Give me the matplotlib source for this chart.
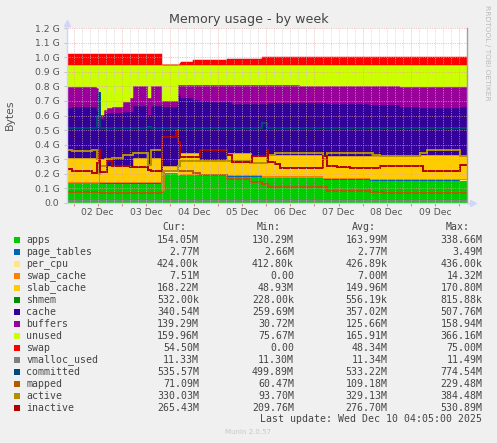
import numpy as np
import matplotlib
matplotlib.use("Agg")
import matplotlib.pyplot as plt

# ---------------- data (values in G, time in hours since 02 Dec 00:00) -------------
hours = [-3.4, -0.75, 9.2, 11.7, 12.45, 13.2, 15.2, 16.7, 19.2, 24.7, 28.1, 29.6,
         37.1, 38.6, 44.0, 45.1, 51.0, 52.0, 52.8, 53.5, 59.5, 63.0, 68.0, 76.4,
         78.9, 87.9, 88.9, 93.9, 96.3, 96.8, 100.3, 102.8, 112.8, 124.3, 126.2, 131.2,
         137.7, 147.7, 149.2, 152.7, 154.1, 162.6, 172.6, 174.0, 176.0, 190.9, 192.4, 195.8]

apps = [.135, .135, .135, .135, .200, .130, .130, .130, .130, .130, .130, .130,
        .130, .130, .205, .205, .205, .190, .190, .190, .190, .185, .185, .180,
        .180, .180, .180, .170, .170, .170, .170, .170, .170, .157, .157, .157,
        .157, .152, .152, .152, .152, .152, .152, .152, .152, .152, .150, .150]
page_tables = [.0027, .0027, .0027, .0027, .0027, .0027, .0027, .0027, .0027, .0027, .0027, .0027,
               .0027, .0027, .0027, .0027, .0027, .0027, .0027, .0027, .0027, .0027, .0027, .0027,
               .0027, .0027, .0027, .0027, .0027, .0027, .0027, .0027, .0027, .0027, .0027, .0027,
               .0027, .0027, .0027, .0027, .0027, .0027, .0027, .0027, .0027, .0027, .0027, .0027]
per_cpu = [.0004, .0004, .0004, .0004, .0004, .0004, .0004, .0004, .0004, .0004, .0004, .0004,
           .0004, .0004, .0004, .0004, .0004, .0004, .0004, .0004, .0004, .0004, .0004, .0004,
           .0004, .0004, .0004, .0004, .0004, .0004, .0004, .0004, .0004, .0004, .0004, .0004,
           .0004, .0004, .0004, .0004, .0004, .0004, .0004, .0004, .0004, .0004, .0004, .0004]
swap_cache = [.0073, .0073, .0073, .0073, .0073, .0073, .0073, .0073, .0073, .0073, .0073, .0073,
              .0073, .0073, 0.0, 0.0, 0.0, 0.0, .0073, .0073, .0073, .0073, .0073, .0073,
              .0073, .0073, .0073, .0073, .0073, .0073, .0073, .0073, .0073, .0073, .0073, .0073,
              .0073, .0073, .0073, .0073, .0073, .0073, .0073, .0073, .0073, .0073, .0073, .0073]
slab_cache = [.160, .160, .160, .155, .010, .160, .165, .110, .110, .110, .110, .170,
              .120, .170, .042, .042, .042, .107, .140, .140, .140, .100, .100, .150,
              .150, .150, .130, .140, .140, .148, .148, .148, .148, .153, .153, .153,
              .153, .158, .158, .158, .158, .158, .168, .168, .168, .168, .164, .164]
shmem = [.0005, .0005, .0005, .0005, .0005, .0005, .0005, .0005, .0005, .0005, .0005, .0005,
         .0005, .0005, .0005, .0005, .0005, .0005, .0005, .0005, .0005, .0005, .0005, .0005,
         .0005, .0005, .0005, .0005, .0005, .0005, .0005, .0005, .0005, .0005, .0005, .0005,
         .0005, .0005, .0005, .0005, .0005, .0005, .0005, .0005, .0005, .0005, .0005, .0005]
cache = [.347, .350, .355, .330, .330, .275, .305, .365, .365, .370, .370, .355,
         .340, .355, .405, .405, .410, .450, .390, .380, .365, .405, .395, .350,
         .340, .340, .360, .360, .360, .356, .356, .356, .356, .364, .355, .355,
         .355, .350, .350, .350, .350, .340, .322, .322, .322, .322, .333, .333]
buffers = [.140, .137, .132, .160, .150, .030, .030, .035, .045, .070, .100, .140,
           .120, .135, .045, .045, .040, .060, .080, .090, .105, .110, .120, .120,
           .130, .130, .130, .130, .130, .126, .126, .126, .116, .116, .125, .125,
           .125, .130, .130, .130, .130, .135, .143, .143, .143, .143, .136, .136]
unused = [.156, .156, .156, .158, .248, .343, .308, .298, .288, .258, .228, .143,
          .228, .148, .248, .248, .248, .138, .138, .138, .138, .138, .138, .138,
          .138, .138, .138, .138, .138, .138, .138, .138, .148, .148, .148, .148,
          .148, .148, .148, .148, .148, .153, .153, .153, .153, .153, .157, .157]
swap = [.075, .075, .075, .075, .075, .075, .075, .075, .075, .075, .075, .075,
        .075, .075, 0.0, 0.0, 0.0, 0.0, .010, .022, .030, .030, .030, .042,
        .042, .042, .042, .052, .052, .052, .052, .052, .052, .052, .052, .052,
        .052, .052, .052, .052, .052, .052, .052, .052, .052, .052, .053, .053]
vmalloc_used = [.011, .011, .011, .011, .011, .011, .011, .011, .011, .011, .011, .011,
                .011, .011, .011, .011, .011, .011, .011, .011, .011, .011, .011, .011,
                .011, .011, .011, .011, .011, .011, .011, .011, .011, .011, .011, .011,
                .011, .011, .011, .011, .011, .011, .011, .011, .011, .011, .011, .011]
committed = [.512, .512, .512, .600, .756, .512, .512, .512, .512, .512, .512, .512,
             .522, .512, .512, .512, .512, .512, .512, .512, .512, .512, .512, .512,
             .512, .512, .512, .545, .512, .512, .512, .512, .512, .512, .512, .512,
             .512, .512, .512, .512, .512, .512, .512, .512, .512, .512, .515, .515]
mapped = [.076, .076, .074, .072, .070, .066, .066, .066, .066, .066, .066, .066,
          .066, .066, .220, .220, .220, .215, .215, .215, .205, .190, .190, .160,
          .160, .145, .145, .130, .130, .110, .110, .106, .106, .106, .083, .083,
          .083, .077, .077, .077, .066, .066, .066, .066, .066, .069, .069, .069]
active = [.365, .355, .360, .300, .200, .250, .250, .300, .310, .325, .325, .340,
          .260, .360, .090, .220, .220, .250, .285, .285, .285, .285, .285, .290,
          .290, .275, .275, .275, .300, .330, .345, .345, .345, .300, .342, .342,
          .342, .342, .330, .320, .320, .320, .340, .340, .360, .365, .322, .322]
inactive = [.230, .215, .205, .270, .360, .210, .210, .285, .250, .250, .245, .245,
            .225, .220, .450, .450, .500, .420, .315, .315, .315, .362, .362, .330,
            .282, .282, .322, .322, .360, .282, .265, .237, .237, .320, .250, .245,
            .240, .240, .240, .255, .255, .255, .255, .215, .215, .215, .260, .260]

y_ticks = [0.0, 0.1, 0.2, 0.3, 0.4, 0.5, 0.6, 0.7, 0.8, 0.9, 1.0, 1.1, 1.2]
y_labels = ["0.0", "0.1 G", "0.2 G", "0.3 G", "0.4 G", "0.5 G", "0.6 G", "0.7 G",
            "0.8 G", "0.9 G", "1.0 G", "1.1 G", "1.2 G"]
x_label_hours = [12, 36, 60, 84, 108, 132, 156, 180]
x_labels = ["02 Dec", "03 Dec", "04 Dec", "05 Dec", "06 Dec", "07 Dec", "08 Dec", "09 Dec"]

legend_names = ["apps", "page_tables", "per_cpu", "swap_cache", "slab_cache", "shmem",
                "cache", "buffers", "unused", "swap", "vmalloc_used", "committed",
                "mapped", "active", "inactive"]
legend_colors = ["#00CC00", "#0066B3", "#FFE680", "#FF8000", "#FFCC00", "#008F00",
                 "#330099", "#990099", "#CCFF00", "#FF0000", "#808080", "#00487D",
                 "#B35A00", "#B38F00", "#B30000"]
cur_vals = ["154.05M", "2.77M", "424.00k", "7.51M", "168.22M", "532.00k", "340.54M",
            "139.29M", "159.96M", "54.50M", "11.33M", "535.57M", "71.09M", "330.03M", "265.43M"]
min_vals = ["130.29M", "2.66M", "412.80k", "0.00", "48.93M", "228.00k", "259.69M",
            "30.72M", "75.67M", "0.00", "11.30M", "499.89M", "60.47M", "93.70M", "209.76M"]
avg_vals = ["163.99M", "2.77M", "426.89k", "7.00M", "149.96M", "556.19k", "357.02M",
            "125.66M", "165.91M", "48.34M", "11.34M", "533.22M", "109.18M", "329.13M", "276.70M"]
max_vals = ["338.66M", "3.49M", "436.00k", "14.32M", "170.80M", "815.88k", "507.76M",
            "158.94M", "366.16M", "75.00M", "11.49M", "774.54M", "229.48M", "384.48M", "530.89M"]

# ---------------- figure ----------------
W, H = 497, 443
fig = plt.figure(figsize=(W / 100, H / 100), dpi=100, facecolor="#F0F0F0")
L, R, T, B = 66.7, 466.7, 28.3, 202.7
ax = fig.add_axes([L / W, 1 - B / H, (R - L) / W, (B - T) / H])
ax.set_facecolor("white")

t = np.array(hours)
stack = [apps, page_tables, per_cpu, swap_cache, slab_cache, shmem, cache, buffers, unused, swap]
base = np.zeros(len(t))
for vals, col in zip(stack, legend_colors[:10]):
    v = np.array(vals)
    top = base + v
    if v.max() > 0.02:
        ax.fill_between(t, base, top, step="post", facecolor=col, edgecolor=col,
                        linewidth=0.35, zorder=2)
    else:
        ax.fill_between(t, base, top, step="post", facecolor=col, linewidth=0, zorder=2.5)
    base = top

line_series = [vmalloc_used, committed, mapped, active, inactive]
for vals, col in zip(line_series, legend_colors[10:]):
    ax.step(t, vals, where="post", color=col, lw=1.4, zorder=4, solid_joinstyle="miter")

xmin, xmax = hours[0], hours[-1]
ax.set_xlim(xmin, xmax)
ax.set_ylim(0, 1.2)

# grid (drawn on top like rrdtool)
for yv in y_ticks[1:]:
    ax.axhline(yv, color="#E6A0A0", lw=0.55, ls=(0, (1.5, 1.5)), alpha=0.8, zorder=5)
for hv in range(0, 200, 4):
    if hv % 24 == 0:
        ax.axvline(hv, color="#E6A0A0", lw=0.55, ls=(0, (1.5, 1.5)), alpha=0.8, zorder=5)
    else:
        ax.axvline(hv, color="#C8C8C8", lw=0.55, ls=(0, (1.5, 1.5)), alpha=0.8, zorder=5)

ax.set_yticks(y_ticks)
ax.set_yticklabels(y_labels)
ax.set_xticks(x_label_hours)
ax.set_xticklabels(x_labels)
ax.set_xticks([0, 24, 48, 72, 96, 120, 144, 168, 192], minor=True)
ax.tick_params(axis="y", length=2, width=0.7, color="#C0C0C0", pad=3.2,
               labelsize=6.7, labelcolor="#555555")
ax.tick_params(axis="x", which="both", length=2, width=0.7, color="#E08080", pad=1.8,
               labelsize=6.7, labelcolor="#555555")

ax.spines["top"].set_visible(False)
ax.spines["left"].set_color("#CFD6F8")
ax.spines["bottom"].set_color("#CFD6F8")
ax.spines["right"].set_color("#A0A0A0")
for s in ["left", "bottom", "right"]:
    ax.spines[s].set_linewidth(1.0)
    ax.spines[s].set_zorder(6)

# arrows
ax.plot([xmin, xmin], [1.2, 1.23], color="#CFD6F8", lw=1.0, clip_on=False, zorder=6)
ax.plot([xmin], [1.235], marker="^", ms=4, color="#CFD6F8", clip_on=False, zorder=6)
ax.plot([xmax, xmax + 2.5], [0, 0], color="#CFD6F8", lw=1.0, clip_on=False, zorder=6)
ax.plot([xmax + 3.0], [0], marker=">", ms=4, color="#CFD6F8", clip_on=False, zorder=6)

def fx(x):
    return x / W

def fy(y):
    return 1 - y / H

fig.text(fx(248.5), fy(19.5), "Memory usage - by week", ha="center", va="center",
         fontsize=9.1, color="#444444")
fig.text(fx(10), fy(115), "Bytes", rotation=90, ha="center", va="center",
         fontsize=7.8, color="#555555")
fig.text(fx(487.3), fy(53), "RRDTOOL / TOBI OETIKER", rotation=270, ha="center",
         va="center", fontsize=5.4, color="#BBBBBB")

mono = "DejaVu Sans Mono"
fs = 7.1
hy = 227.3
for txt, xr in zip(["Cur:", "Min:", "Avg:", "Max:"], [186, 281, 375.5, 470]):
    fig.text(fx(xr), fy(hy), txt, ha="right", va="center", family=mono, fontsize=fs,
             color="#444444")
for i, name in enumerate(legend_names):
    yy = 239.7 + 12.0 * i
    fig.patches.append(plt.Rectangle((fx(14), fy(yy + 3)), 6 / W, 6 / H,
                                     transform=fig.transFigure, facecolor=legend_colors[i],
                                     edgecolor="none"))
    fig.text(fx(26.3), fy(yy), name, ha="left", va="center", family=mono, fontsize=fs,
             color="#444444")
    for vals, xr in zip([cur_vals, min_vals, avg_vals, max_vals], [199, 294, 387.7, 482.3]):
        fig.text(fx(xr), fy(yy), vals[i], ha="right", va="center", family=mono,
                 fontsize=fs, color="#444444")
fig.text(fx(482.3), fy(419.3), "Last update: Wed Dec 10 04:05:00 2025", ha="right",
         va="center", family=mono, fontsize=fs, color="#444444")
fig.text(fx(248), fy(431.7), "Munin 2.0.57", ha="center", va="center", fontsize=5.0,
         color="#C8C8C8")

fig.savefig("out.png", dpi=100, facecolor="#F0F0F0")
